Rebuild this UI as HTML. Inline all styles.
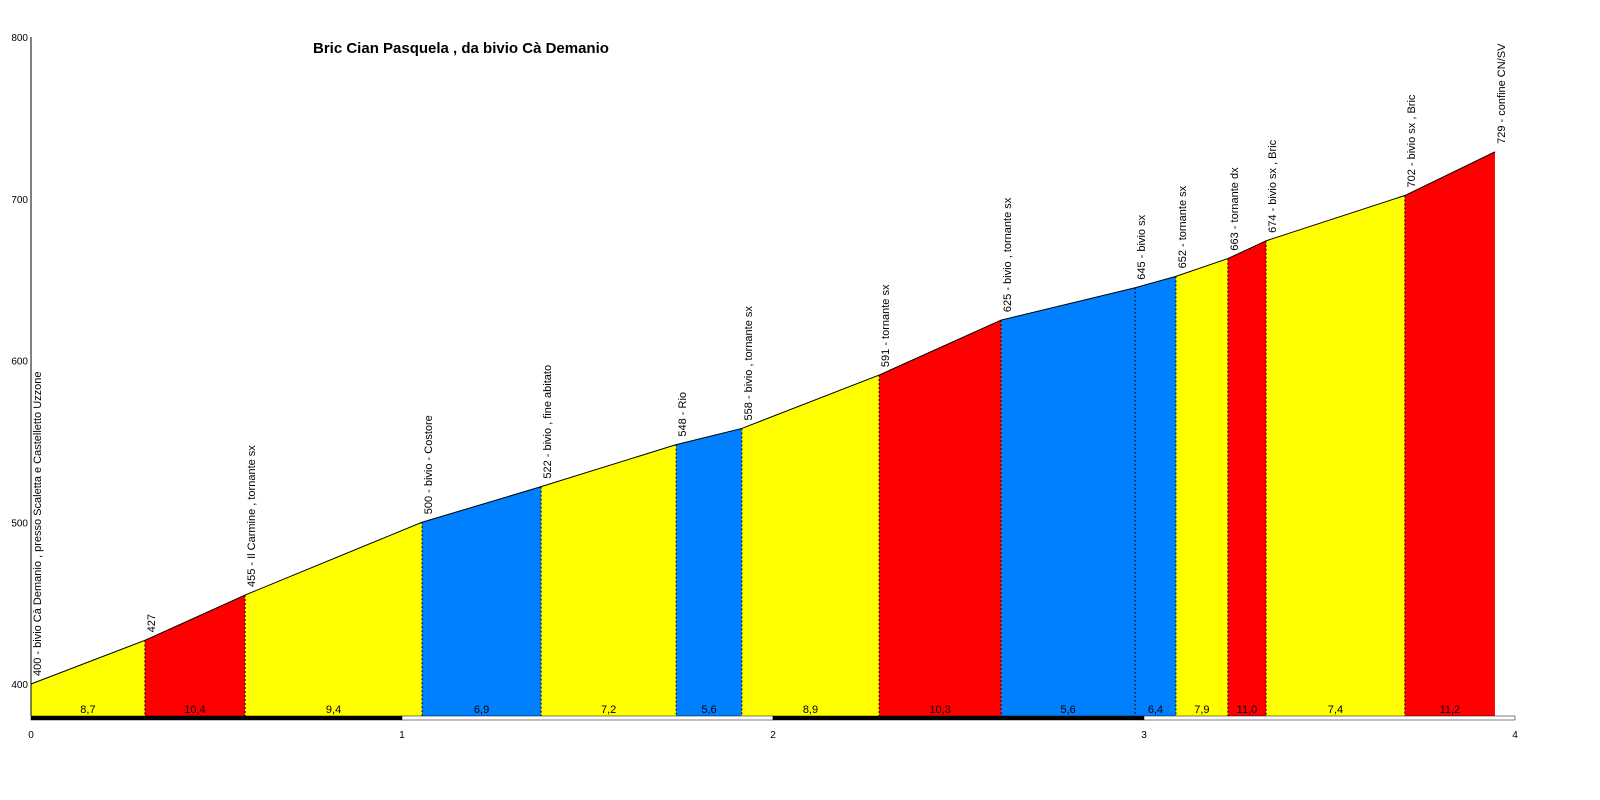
<!DOCTYPE html>
<html><head><meta charset="utf-8"><style>body{margin:0;background:#fff}svg{display:block;font-family:"Liberation Sans",sans-serif}</style></head>
<body>
<svg id="c" width="1600" height="800">
<text x="313" y="53" font-size="15" font-weight="bold">Bric Cian Pasquela , da bivio Cà Demanio</text>
</svg>
<script>
const distKm=[0,0.307,0.577,1.054,1.375,1.739,1.916,2.286,2.615,2.976,3.086,3.226,3.329,3.703,3.946];
const elev=[400,427,455,500,522,548,558,591,625,645,652,663,674,702,729];
const names=["400 - bivio Cà Demanio , presso Scaletta e Castelletto Uzzone","427","455 - Il Carmine , tornante sx","500 - bivio - Costore","522 - bivio , fine abitato","548 - Rio","558 - bivio , tornante sx","591 - tornante sx","625 - bivio , tornante sx","645 - bivio sx","652 - tornante sx","663 - tornante dx","674 - bivio sx , Bric","702 - bivio sx , Bric","729 - confine CN/SV"];
const grades=["8,7","10,4","9,4","6,9","7,2","5,6","8,9","10,3","5,6","6,4","7,9","11,0","7,4","11,2"];
const yTicks=[400,500,600,700,800];
const xTicks=[0,1,2,3,4];
const NS="http://www.w3.org/2000/svg",svg=document.getElementById('c');
const X=k=>31+k*371, Y=e=>684-(e-400)*1.6175, BASE=716;
function mk(t,a,p){const e=document.createElementNS(NS,t);for(const k in a)e.setAttribute(k,a[k]);(p||svg).appendChild(e);return e;}
function col(g){const v=parseFloat(g.replace(',','.'));return v<7?'#0080ff':(v>10?'#ff0000':'#ffff00');}
for(let i=0;i<grades.length;i++){
  const x0=X(distKm[i]),x1=X(distKm[i+1]),y0=Y(elev[i]),y1=Y(elev[i+1]);
  const p=mk('polygon',{points:`${x0},${BASE} ${x0},${y0} ${x1},${y1} ${x1},${BASE}`,fill:col(grades[i])});
  
  
  const t=mk('text',{x:(x0+x1)/2,y:713,'font-size':11,'text-anchor':'middle'});t.textContent=grades[i];
  
  
}
for(let i=1;i<elev.length-1;i++){
  const l=mk('line',{x1:X(distKm[i]),x2:X(distKm[i]),y1:Y(elev[i]),y2:BASE,stroke:'#000','stroke-dasharray':'2,2'});
  
  
}
const pl=mk('polyline',{points:distKm.map((d,i)=>X(d)+','+Y(elev[i])).join(' '),fill:'none',stroke:'#000','stroke-width':1});


for(let i=0;i<elev.length;i++){
  const x=X(distKm[i])+10,y=Y(elev[i])-8;
  const t=mk('text',{x:x,y:y,'font-size':11,transform:`rotate(-90 ${x} ${y})`});t.textContent=names[i];
  
  
}
const ax=mk('line',{x1:31,x2:31,y1:37,y2:BASE,stroke:'#000'});


yTicks.forEach(v=>{const t=mk('text',{x:28,y:Y(v)+4,'font-size':10,'text-anchor':'end'});t.textContent=v;
  
  });
for(let k=0;k<xTicks.length-1;k++){
  const r=mk('rect',{x:X(xTicks[k]),y:716,width:371,height:4,fill:k%2?'#fff':'#000',stroke:'#000','stroke-width':0.5});
  
  
}
xTicks.forEach(v=>{const t=mk('text',{x:X(v),y:738,'font-size':10,'text-anchor':'middle'});t.textContent=v;
  
  });
</script>
</body></html>
